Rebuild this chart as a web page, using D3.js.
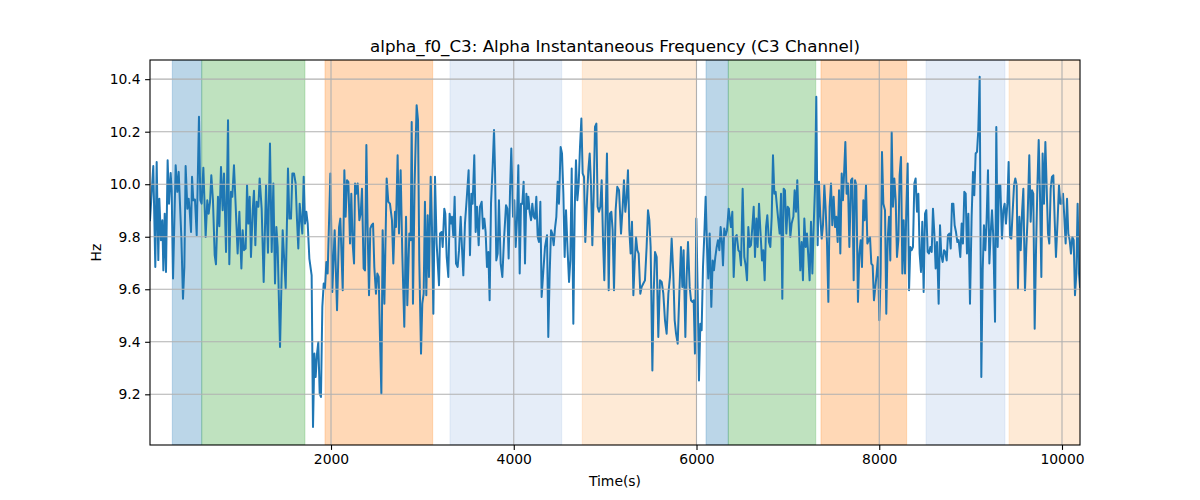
<!DOCTYPE html>
<html><head><meta charset="utf-8">
<script src="https://cdn.jsdelivr.net/npm/d3@7"></script>
<style>body{margin:0;background:#fff}svg{display:block;font-family:"DejaVu Sans",sans-serif}</style>
</head><body><svg id="c" width="1200" height="500"></svg>
<script>
const times = [19,55,77,92,110,121,139,154,165,180,194,212,227,245,256,271,300,318,333,347,362,380,395,409,428,442,453,468,479,493,511,530,555,570,584,603,628,646,661,676,690,708,727,741,763,778,796,814,829,851,873,887,905,920,938,957,978,997,1019,1033,1048,1066,1081,1095,1110,1124,1143,1157,1172,1186,1205,1219,1241,1263,1289,1310,
1332,1351,1369,1387,1402,1416,1442,1471,1504,1529,1544,1562,1577,1595,1613,1628,1642,1657,1672,1686,1701,1715,1730,1745,1763,1788,1803,1818,1832,1847,1861,1876,1890,1905,1920,1934,1949,1963,1993,2014,2040,2066,2088,2102,2128,2146,2160,2175,2190,2208,2222,2237,2252,2263,2277,2292,2310,2325,2339,2357,2372,2387,2401,2416,2430,2445,2460,2474,2492,2507,2522,2536,2551,2565,2584,
2609,2627,2645,2667,2682,2700,2711,2729,2744,2762,2780,2802,2821,2835,2857,2872,2883,2897,2915,2937,2952,2966,2985,2999,3014,3028,3043,3058,3072,3091,3105,3120,3138,3156,3182,3193,3211,3222,3240,3251,3266,3284,3298,3313,3324,3339,3353,3368,3386,3401,3419,3433,3448,3466,3484,3506,3521,3536,3550,3568,3583,3598,3616,3630,3649,3663,3678,3692,3707,3722,3736,3751,3769,3784,3795,3809,3824,3838,
3857,3875,3893,3915,3930,3944,3959,3973,3992,4006,4021,4035,4050,4065,4079,4094,4108,4123,4138,4152,4160,4174,4189,4203,4218,4232,4247,4262,4276,4291,4305,4324,4342,4364,4378,4393,4408,4422,4437,4451,4466,4481,4495,4513,4528,4543,4557,4572,4590,4605,4619,4634,4652,4667,4681,4696,4710,4725,4740,4754,4769,4783,4798,4816,4831,4845,4860,4874,4889,4904,4918,4933,4947,4962,4977,4991,5006,5020,5039,5053,5068,5082,5097,
5115,5133,5152,5174,5192,5206,5221,5236,5250,5265,5279,5294,5309,5323,5338,5352,5367,5385,5400,5418,5436,5454,5469,5484,5498,5517,5531,5546,5564,5582,5600,5619,5637,5655,5673,5692,5710,5728,5746,5761,5776,5794,5812,5830,5845,5859,5878,5892,5907,5925,5940,5954,5969,5983,5998,6013,6027,6042,6056,6071,6086,6100,6115,6129,6144,6162,6177,6191,6206,6221,6235,6250,6264,6279,6290,6304,6319,6334,6352,
6377,6392,6407,6425,6440,6458,6472,6487,6505,6523,6538,6553,6567,6582,6596,6611,6626,6640,6655,6669,6684,6699,6717,6731,6746,6761,6775,6793,6808,6823,6837,6852,6866,6881,6895,6910,6925,6939,6954,6968,6983,6998,7012,7027,7041,7060,7074,7089,7103,7122,7136,7151,7165,7180,7195,7209,7224,7238,7253,7268,7282,7297,7311,7326,7341,7355,7370,7384,7399,7413,7428,7443,7457,7472,7486,7501,7516,7530,7545,7560,7574,7589,7603,
7629,7643,7658,7673,7691,7705,7720,7735,7749,7767,7782,7797,7811,7826,7840,7855,7870,7884,7899,7913,7928,7942,7957,7972,7986,8001,8015,8030,8045,8063,8077,8092,8107,8121,8136,8150,8165,8180,8194,8209,8223,8238,8253,8267,8282,8296,8311,8326,8340,8355,8369,8384,8398,8413,8428,8442,8457,8471,8486,8501,8515,8530,8544,8559,8574,8588,8603,8617,8632,8650,8665,8679,8694,8709,8723,8738,8752,8767,8782,8796,8811,8825,8840,8855,8869,
8887,8902,8916,8931,8946,8960,8975,8993,9011,9026,9040,9055,9070,9084,9099,9117,9132,9146,9161,9175,9190,9205,9219,9234,9248,9267,9281,9296,9310,9325,9343,9358,9372,9387,9402,9416,9431,9445,9460,9475,9489,9504,9518,9533,9548,9562,9577,9595,9610,9624,9642,9657,9672,9686,9701,9715,9730,9745,9759,9774,9788,9803,9818,9832,9847,9861,9876,9890,9905,9920,9934,9952,9967,9982,9996,10011,10025,10040,10055,10069,10084,10098,10113,10128,10142,10157,10171,10186,10197];

const hz = [9.863,10.069,9.685,10.085,9.711,9.945,9.787,9.863,9.672,9.888,9.666,10.091,9.926,10.043,9.977,9.641,10.072,9.971,10.047,9.926,9.799,9.564,9.685,10.069,9.907,9.945,9.901,9.818,10.028,9.939,9.942,9.806,10.257,9.939,9.926,10.063,9.799,9.939,9.888,9.933,10.034,9.939,9.730,9.695,9.952,9.840,10.066,9.901,10.041,9.742,10.244,9.695,9.971,9.952,10.072,9.914,9.736,9.895,9.679,9.825,9.749,9.755,9.996,9.850,9.952,9.723,9.901,9.975,9.768,9.933,9.914,10.022,9.907,9.628,9.996,9.739,
10.155,9.742,10.003,9.622,9.837,9.761,9.380,9.825,9.603,10.060,9.869,9.869,10.041,10.041,10.003,9.863,9.755,9.926,9.863,9.812,10.028,9.850,9.895,9.850,9.717,9.653,9.076,9.355,9.266,9.355,9.399,9.203,9.190,9.533,9.622,9.603,9.704,9.660,10.041,9.590,9.825,9.520,9.837,9.869,9.596,10.053,9.876,10.015,10.009,9.774,9.964,9.774,9.698,10.003,9.964,10.003,9.863,9.888,9.983,9.679,9.672,10.149,9.825,9.577,9.831,9.844,9.850,9.685,9.583,9.660,9.647,9.418,9.203,9.825,9.545,
10.022,9.933,9.926,9.863,9.698,9.895,9.837,10.110,9.812,10.053,9.736,9.457,9.876,9.539,9.812,9.787,10.237,9.545,10.003,10.301,10.244,9.710,9.355,9.545,9.583,9.933,9.577,9.882,9.647,10.028,9.837,9.507,10.028,9.774,9.615,9.812,9.818,9.761,9.907,9.888,9.723,9.647,9.888,9.850,9.876,9.799,9.952,9.698,9.685,9.749,9.876,9.761,9.653,9.850,9.939,10.053,9.730,9.964,9.926,10.110,9.818,9.914,9.768,9.914,9.933,9.831,9.869,9.818,9.685,9.742,9.558,9.926,10.066,10.206,10.053,9.710,9.736,9.939,
9.698,9.647,9.787,9.920,9.907,9.717,9.971,10.136,9.876,9.939,9.761,9.863,10.072,9.660,9.926,9.926,10.009,9.698,9.964,9.907,9.952,9.895,9.863,9.926,9.876,9.869,9.952,9.799,9.780,9.933,9.571,9.672,9.761,9.806,9.418,9.660,9.825,9.812,9.768,9.831,9.876,10.009,9.926,10.142,10.117,9.964,9.723,9.901,9.742,9.628,9.710,10.060,9.469,9.901,10.091,9.939,9.996,10.142,10.250,10.041,10.028,9.780,9.914,10.053,10.117,10.003,9.768,9.952,10.218,10.231,9.914,9.895,9.914,10.015,9.787,9.634,9.882,10.117,9.596,9.888,9.895,9.825,9.596,
9.901,9.990,9.977,9.812,9.914,10.015,9.895,9.952,10.053,9.825,9.736,9.857,9.577,9.698,9.799,9.749,9.736,9.583,9.609,9.622,9.634,9.761,9.901,9.863,9.761,9.291,9.583,9.742,9.723,9.418,9.634,9.628,9.583,9.482,9.431,9.583,9.647,9.793,9.660,9.482,9.431,9.393,9.583,9.761,9.609,9.749,9.418,9.647,9.780,9.609,9.558,9.552,9.558,9.355,9.869,9.583,9.253,9.469,9.444,9.685,9.812,9.952,9.761,9.641,9.812,9.533,9.710,9.672,9.723,9.761,9.787,9.749,9.837,9.774,9.691,9.831,9.806,9.825,9.907,
9.837,9.895,9.647,9.799,9.806,9.749,9.742,9.691,9.983,9.723,9.691,9.634,9.837,9.761,9.768,9.837,9.914,9.723,9.869,9.761,9.926,9.825,9.710,9.749,9.634,9.837,9.882,9.780,9.761,9.876,10.110,9.964,9.971,9.914,9.863,9.812,9.964,9.564,9.983,9.977,9.812,9.914,9.907,9.799,9.850,9.876,9.977,9.895,10.015,9.812,9.672,9.780,9.634,9.869,9.761,9.812,9.723,9.634,9.857,9.660,9.837,9.990,10.333,9.768,10.009,9.876,9.793,9.844,9.996,9.907,9.780,9.552,9.914,10.003,9.844,9.952,9.837,9.876,9.780,9.977,9.736,10.041,9.939,
10.161,9.964,10.003,9.761,10.015,10.022,9.634,10.015,9.996,9.552,9.736,9.787,9.685,9.939,9.863,9.996,9.774,9.787,9.799,9.698,9.691,9.558,9.609,9.660,9.723,9.482,9.660,10.123,9.926,9.901,9.507,9.787,9.876,9.710,10.199,9.914,10.022,9.939,9.723,9.787,10.034,10.104,9.660,9.863,9.660,9.901,10.079,9.596,9.761,9.749,9.761,10.003,10.022,9.895,9.964,9.736,9.666,9.857,9.590,9.888,9.901,9.742,9.736,9.761,9.742,9.907,9.812,9.679,9.780,9.545,9.844,9.730,9.704,9.749,9.742,9.710,9.806,9.812,9.755,9.926,9.926,9.844,9.818,9.780,9.787,
9.723,9.850,9.774,9.971,9.964,9.736,9.888,9.545,9.876,10.047,9.958,10.117,10.123,10.206,10.409,9.266,9.672,9.844,9.749,9.863,10.053,9.698,9.812,9.901,9.799,9.476,10.218,9.761,9.996,9.996,9.793,9.901,9.926,9.850,9.926,10.085,9.799,9.793,9.895,9.996,10.022,9.996,9.603,9.876,9.749,9.888,9.983,9.596,9.761,9.876,10.110,9.857,9.977,9.964,9.450,9.736,9.983,10.168,9.964,9.647,10.117,9.926,10.161,9.990,9.812,9.774,9.983,10.028,10.034,9.863,9.723,9.863,9.996,9.926,9.926,9.964,9.876,9.774,9.945,9.812,9.787,9.736,9.799,9.787,9.577,9.660,9.926,9.660,9.609];

const bandStart = [263, 585, 1934, 3302, 4750, 6104, 6348, 7362, 8512, 9420];
const bandEnd   = [585, 1715, 3113, 4525, 5998, 6348, 7305, 8300, 9376, 10300];
const bandKind  = ["blue", "green", "orange", "lightblue", "lightorange", "blue", "green", "orange", "lightblue", "lightorange"];

const xTicks = [2000, 4000, 6000, 8000, 10000];
const yTicks = [9.2, 9.4, 9.6, 9.8, 10.0, 10.2, 10.4];

const titleText = "alpha_f0_C3: Alpha Instantaneous Frequency (C3 Channel)";
const xLabel = "Time(s)";
const yLabel = "Hz";

const bandStyle = {
  blue: {fill: "#1f77b4", op: 0.3},
  green: {fill: "#2ca02c", op: 0.3},
  orange: {fill: "#ff7f0e", op: 0.3},
  lightblue: {fill: "#6f9bd6", op: 0.18},
  lightorange: {fill: "#fdac5c", op: 0.25}
};

const L = 150, R = 1080, T = 60, B = 445;
const svg = d3.select("#c");
const x = d3.scaleLinear().domain([19, 10197]).range([L, R]);
const y = d3.scaleLinear().domain([9.007, 10.473]).range([B, T]);

svg.append("defs").append("clipPath").attr("id", "clip")
  .append("rect").attr("x", L).attr("y", T).attr("width", R - L).attr("height", B - T);

const plot = svg.append("g").attr("clip-path", "url(#clip)");

// bands
plot.selectAll("rect.band").data(bandStart.map((s, i) => ({s, e: bandEnd[i], k: bandKind[i]})))
  .join("rect").attr("class", "band")
  .attr("x", d => x(d.s)).attr("width", d => x(d.e) - x(d.s))
  .attr("y", T).attr("height", B - T)
  .attr("fill", d => bandStyle[d.k].fill).attr("fill-opacity", d => bandStyle[d.k].op)
  .attr("stroke", d => bandStyle[d.k].fill).attr("stroke-opacity", d => bandStyle[d.k].op * 0.8)
  .attr("stroke-width", 1);

// grid
const grid = svg.append("g");
grid.selectAll("line.gx").data(xTicks).join("line")
  .attr("x1", d => x(d)).attr("x2", d => x(d)).attr("y1", T).attr("y2", B)
  .attr("stroke", "#b0b0b0").attr("stroke-width", 1.1);
grid.selectAll("line.gy").data(yTicks).join("line")
  .attr("y1", d => y(d)).attr("y2", d => y(d)).attr("x1", L).attr("x2", R)
  .attr("stroke", "#b0b0b0").attr("stroke-width", 1.1);

// line
const pts = times.map((t, i) => [t, hz[i]]);
plot.append("path").datum(pts)
  .attr("fill", "none").attr("stroke", "#1f77b4").attr("stroke-width", 2)
  .attr("stroke-linejoin", "round").attr("stroke-linecap", "square")
  .attr("d", d3.line().x(d => x(d[0])).y(d => y(d[1])));

// axes
const xa = svg.append("g").attr("transform", `translate(0,${B})`)
  .call(d3.axisBottom(x).tickValues(xTicks).tickFormat(d3.format("d")).tickSize(4.9).tickPadding(4.5));
const ya = svg.append("g").attr("transform", `translate(${L},0)`)
  .call(d3.axisLeft(y).tickValues(yTicks).tickFormat(d3.format(".1f")).tickSize(4.9).tickPadding(4.5));
[xa, ya].forEach(a => {
  a.select(".domain").remove();
  a.selectAll(".tick line").attr("stroke", "#000").attr("stroke-width", 1.1);
  a.selectAll(".tick text").attr("fill", "#000").attr("font-size", "13.9px").attr("font-family", "DejaVu Sans");
});

// frame
svg.append("rect").attr("x", L).attr("y", T).attr("width", R - L).attr("height", B - T)
  .attr("fill", "none").attr("stroke", "#000").attr("stroke-width", 1.1);

svg.append("text").attr("x", (L + R) / 2).attr("y", 52).attr("text-anchor", "middle")
  .attr("font-size", "16.7px").attr("fill", "#000").text(titleText);
svg.append("text").attr("x", (L + R) / 2).attr("y", 486).attr("text-anchor", "middle")
  .attr("font-size", "13.9px").attr("fill", "#000").text(xLabel);
svg.append("text").attr("transform", `translate(101,${(T + B) / 2}) rotate(-90)`).attr("text-anchor", "middle")
  .attr("font-size", "13.9px").attr("fill", "#000").text(yLabel);
</script></body></html>
